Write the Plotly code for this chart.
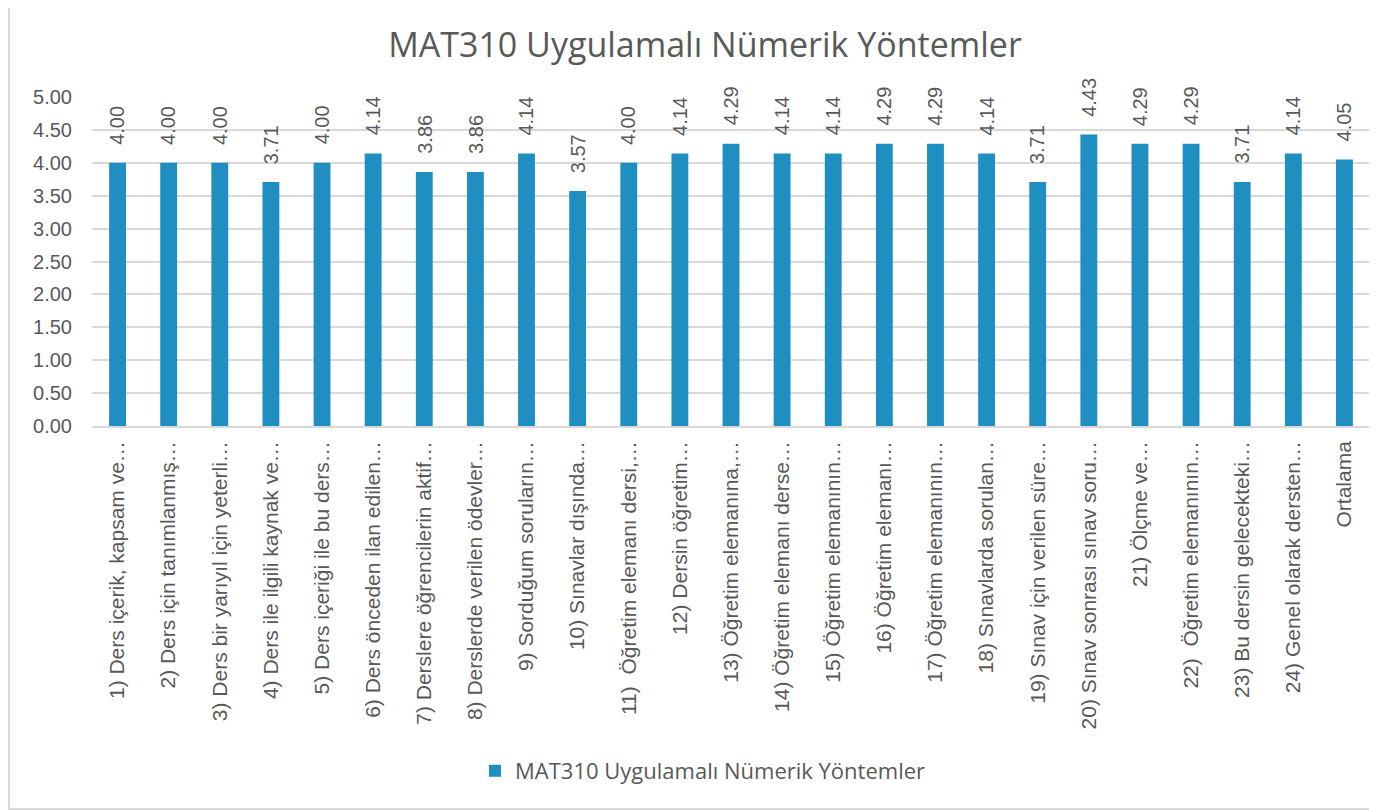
import plotly.graph_objects as go

categories = [
    "1) Ders içerik, kapsam ve…",
    "2) Ders için tanımlanmış…",
    "3) Ders bir yarıyıl için yeterli…",
    "4) Ders ile ilgili kaynak ve…",
    "5) Ders içeriği ile bu ders…",
    "6) Ders önceden ilan edilen…",
    "7) Derslere öğrencilerin aktif…",
    "8) Derslerde verilen ödevler…",
    "9) Sorduğum soruların…",
    "10) Sınavlar dışında…",
    "11)  Öğretim elemanı dersi,…",
    "12) Dersin öğretim…",
    "13) Öğretim elemanına,…",
    "14) Öğretim elemanı derse…",
    "15) Öğretim elemanının…",
    "16) Öğretim elemanı…",
    "17) Öğretim elemanının…",
    "18) Sınavlarda sorulan…",
    "19) Sınav için verilen süre…",
    "20) Sınav sonrası sınav soru…",
    "21) Ölçme ve…",
    "22)  Öğretim elemanının…",
    "23) Bu dersin gelecekteki…",
    "24) Genel olarak dersten…",
    "Ortalama",
]
values = [4.00, 4.00, 4.00, 3.71, 4.00, 4.14, 3.86, 3.86, 4.14, 3.57, 4.00, 4.14, 4.29,
          4.14, 4.14, 4.29, 4.29, 4.14, 3.71, 4.43, 4.29, 4.29, 3.71, 4.14, 4.05]
y_ticks = [0, 0.5, 1, 1.5, 2, 2.5, 3, 3.5, 4, 4.5, 5]
series_name = "MAT310 Uygulamalı Nümerik Yöntemler"
title_text = "MAT310 Uygulamalı Nümerik Yöntemler"

# page has an 8px body margin; figure coordinates are page coordinates minus 8
OFF = 8
W, H = 1377 - OFF, 812 - OFF
L, R, T, B = 92 - OFF, 1370 - OFF, 97 - OFF, 426 - OFF
GRAY = "#595959"
BAR = "#1f8fc1"
FONT = "Liberation Sans, Arial, sans-serif"
TFONT = "Open Sans, sans-serif"

fig = go.Figure()
fig.add_trace(go.Bar(
    x=categories, y=values, name=series_name, marker_color=BAR,
    marker_line_width=0,
))

for c, v in zip(categories, values):
    fig.add_annotation(
        x=c, y=v, xref="x", yref="y", text=f"{v:.2f}", showarrow=False,
        textangle=-90, yanchor="bottom", xanchor="center", yshift=16,
        font=dict(family=FONT, size=20, color=GRAY),
    )

def px_x(p):
    return (p - OFF - L) / (R - L)

def px_y(p):
    return (B - (p - OFF)) / (B - T)

fig.add_shape(type="rect", xref="paper", yref="paper",
              x0=px_x(9), x1=px_x(1400), y0=px_y(809), y1=px_y(-20),
              line=dict(color="#d9d9d9", width=2), fillcolor="rgba(0,0,0,0)", layer="below")

fig.update_layout(
    width=W, height=H,
    margin=dict(l=L, r=W - R, t=T, b=H - B, autoexpand=False),
    paper_bgcolor="white", plot_bgcolor="white",
    bargap=0.67,
    title=dict(text=title_text, x=(705 - OFF) / W, xanchor="center",
               y=1 - (45 - OFF) / H, yanchor="middle",
               yref="container", xref="container",
               font=dict(family=TFONT, size=34, color=GRAY)),
    showlegend=True,
    legend=dict(orientation="h", x=px_x(703), xanchor="center",
                y=px_y(771), yanchor="middle",
                font=dict(family=TFONT, size=22, color=GRAY)),
    xaxis=dict(tickangle=-90, tickfont=dict(family=FONT, size=21, color=GRAY),
               showline=True, linecolor="#d9d9d9", linewidth=1.5, ticks="",
               ticklabelstandoff=5, automargin=False),
    yaxis=dict(range=[0, 5], tickvals=y_ticks, tickformat=".2f",
               tickfont=dict(family=FONT, size=20, color=GRAY),
               showgrid=True, gridcolor="#d9d9d9", gridwidth=1.5, zeroline=False,
               ticks="", ticklabelstandoff=19, automargin=False),
)

fig.write_html("out.html")
